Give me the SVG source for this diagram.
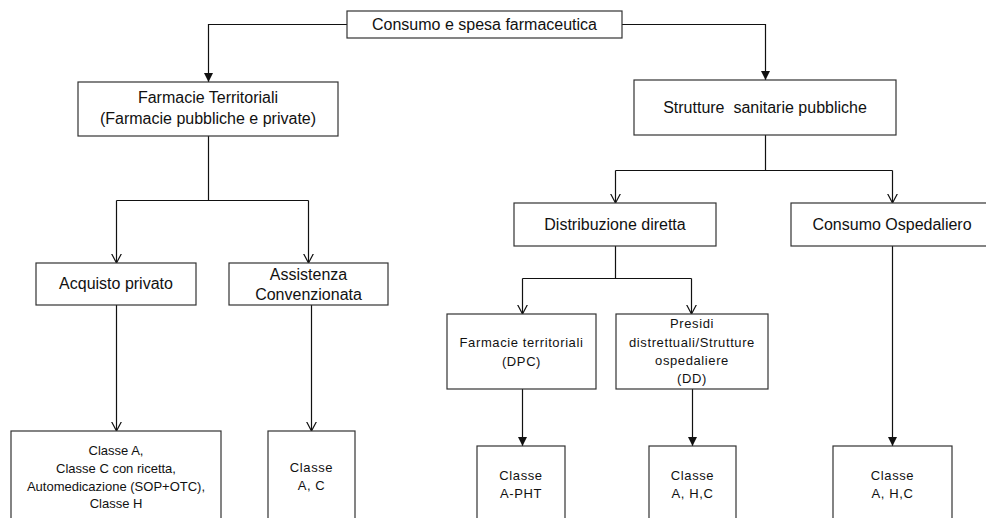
<svg xmlns="http://www.w3.org/2000/svg" width="986" height="518" viewBox="0 0 986 518">
<defs>
<style>
.box{fill:#fff;stroke:#333;stroke-width:1.2}
.ln{fill:none;stroke:#111;stroke-width:1.2}
.t{font-family:"Liberation Sans",Arial,sans-serif;font-size:16px;fill:#111;text-anchor:middle}
.s{font-family:"Liberation Sans",Arial,sans-serif;font-size:13px;fill:#111;text-anchor:middle}
.sp{letter-spacing:0.6px}
</style>
<marker id="fa" markerUnits="userSpaceOnUse" markerWidth="10" markerHeight="10" refX="9" refY="4.5" orient="auto">
<path d="M0,0 L9,4.5 L0,9 z" fill="#111"/>
</marker>
<marker id="oa" markerUnits="userSpaceOnUse" markerWidth="12" markerHeight="12" refX="9.5" refY="5.5" orient="auto">
<path d="M0,0.5 L9.5,5.5 L0,10.5" fill="none" stroke="#111" stroke-width="1.2"/>
</marker>
</defs>
<rect width="986" height="518" fill="#fff"/>
<g id="connectors">
<path class="ln" d="M347,24.5 H208.5 V82" marker-end="url(#fa)"/>
<path class="ln" d="M622,24.5 H765.5 V80" marker-end="url(#fa)"/>
<path class="ln" d="M208.5,136 V200.5 M116.5,200.5 H308.5"/>
<path class="ln" d="M116.5,200.5 V263" marker-end="url(#oa)"/>
<path class="ln" d="M308.5,200.5 V263" marker-end="url(#oa)"/>
<path class="ln" d="M116.5,305 V431" marker-end="url(#oa)"/>
<path class="ln" d="M311.5,305 V431" marker-end="url(#oa)"/>
<path class="ln" d="M765.5,135 V170.5 M615.5,170.5 H892.5"/>
<path class="ln" d="M615.5,170.5 V203" marker-end="url(#oa)"/>
<path class="ln" d="M892.5,170.5 V203" marker-end="url(#oa)"/>
<path class="ln" d="M615.5,246 V278.5 M522.5,278.5 H691.5"/>
<path class="ln" d="M522.5,278.5 V314" marker-end="url(#oa)"/>
<path class="ln" d="M691.5,278.5 V314" marker-end="url(#oa)"/>
<path class="ln" d="M522.5,389 V446" marker-end="url(#fa)"/>
<path class="ln" d="M692.5,389 V446" marker-end="url(#fa)"/>
<path class="ln" d="M892.5,246 V446" marker-end="url(#fa)"/>
</g>
<g id="root">
<rect class="box" x="347" y="11" width="275" height="27"/>
<text class="t" x="484.5" y="30">Consumo e spesa farmaceutica</text>
</g>
<g id="farmacie-territoriali">
<rect class="box" x="78" y="82" width="260" height="54"/>
<text class="t" x="208" y="103">Farmacie Territoriali</text>
<text class="t" x="208" y="124">(Farmacie pubbliche e private)</text>
</g>
<g id="strutture">
<rect class="box" x="634" y="80" width="262" height="55"/>
<text class="t" x="765" y="113" xml:space="preserve">Strutture  sanitarie pubbliche</text>
</g>
<g id="acquisto">
<rect class="box" x="36" y="263" width="160" height="42"/>
<text class="t" x="116" y="289">Acquisto privato</text>
</g>
<g id="assistenza">
<rect class="box" x="229" y="263" width="159" height="42"/>
<text class="t" x="308.5" y="280">Assistenza</text>
<text class="t" x="308.5" y="300">Convenzionata</text>
</g>
<g id="distribuzione">
<rect class="box" x="514" y="203" width="202" height="43"/>
<text class="t" x="615" y="230">Distribuzione diretta</text>
</g>
<g id="ospedaliero">
<rect class="box" x="791" y="203" width="210" height="43"/>
<text class="t" x="892" y="230">Consumo Ospedaliero</text>
</g>
<g id="dpc">
<rect class="box" x="447" y="314" width="149" height="75"/>
<text class="s sp" x="521.5" y="347">Farmacie territoriali</text>
<text class="s sp" x="521.5" y="366">(DPC)</text>
</g>
<g id="presidi">
<rect class="box" x="616" y="314" width="152" height="75"/>
<text class="s sp" x="692" y="328">Presidi</text>
<text class="s sp" x="692" y="347">distrettuali/Strutture</text>
<text class="s sp" x="692" y="365">ospedaliere</text>
<text class="s sp" x="692" y="383">(DD)</text>
</g>
<g id="classe-privato">
<rect class="box" x="11" y="431" width="210" height="100"/>
<text class="s" x="116" y="455">Classe A,</text>
<text class="s" x="116" y="473">Classe C con ricetta,</text>
<text class="s" x="116" y="490.5">Automedicazione (SOP+OTC),</text>
<text class="s" x="116" y="508">Classe H</text>
</g>
<g id="classe-convenzionata">
<rect class="box" x="268" y="431" width="87" height="100"/>
<text class="s sp" x="311.5" y="472">Classe</text>
<text class="s sp" x="311.5" y="490">A, C</text>
</g>
<g id="classe-pht">
<rect class="box" x="477" y="446" width="88" height="100"/>
<text class="s sp" x="521" y="480">Classe</text>
<text class="s sp" x="521" y="498">A-PHT</text>
</g>
<g id="classe-dd">
<rect class="box" x="649" y="446" width="87" height="100"/>
<text class="s sp" x="692.5" y="480">Classe</text>
<text class="s sp" x="692.5" y="498">A, H,C</text>
</g>
<g id="classe-ospedaliero">
<rect class="box" x="833" y="446" width="119" height="100"/>
<text class="s sp" x="892.5" y="480">Classe</text>
<text class="s sp" x="892.5" y="498">A, H,C</text>
</g>
</svg>
